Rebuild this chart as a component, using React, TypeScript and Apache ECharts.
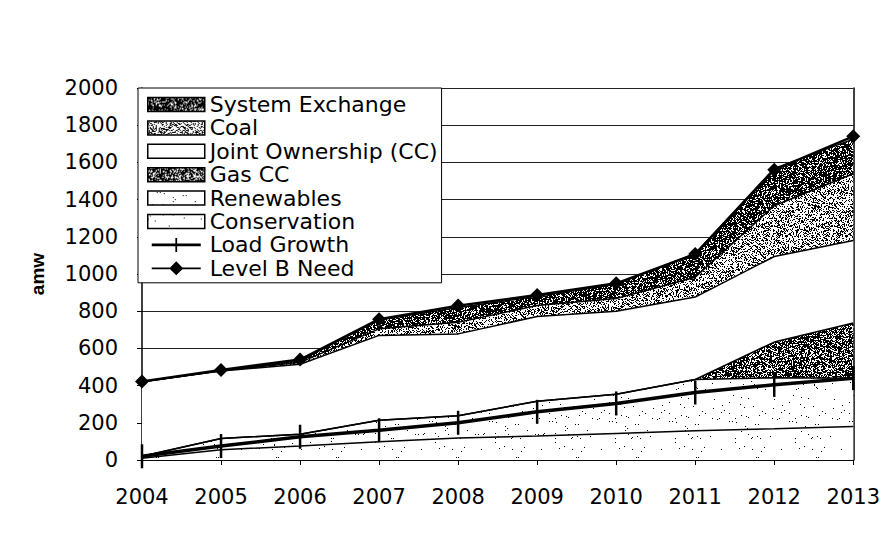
import React, { useEffect, useRef } from 'react';
import * as echarts from 'echarts';

const years = ['2004', '2005', '2006', '2007', '2008', '2009', '2010', '2011', '2012', '2013'];
// stacked from bottom to top
const conservation = [10, 55, 75, 98, 118, 129, 143, 157, 168, 180];
const renewables = [10, 61, 64, 116, 120, 187, 211, 276, 274, 260];
const gasCC = [0, 0, 0, 0, 0, 0, 0, 0, 192, 296];
const jointOwnership = [400, 362, 376, 456, 440, 456, 446, 443, 460, 444];
const coal = [0, 2, 10, 35, 62, 59, 68, 107, 273, 359];
const systemExchange = [0, 3, 10, 47, 80, 49, 77, 127, 201, 186];
const loadGrowth = [20, 75, 125, 160, 200, 259, 304, 363, 404, 440];
const levelBNeed = [422, 484, 540, 757, 830, 887, 950, 1107, 1560, 1740];

const yMin = 0;
const yMax = 2000;
const yStep = 200;

function makeTexture(bg: string, density: number, seed: number) {
  const size = 60;
  const c = document.createElement('canvas');
  c.width = size;
  c.height = size;
  const ctx = c.getContext('2d')!;
  ctx.fillStyle = bg;
  ctx.fillRect(0, 0, size, size);
  ctx.fillStyle = '#000';
  let s = seed;
  for (let y = 0; y < size; y++) {
    for (let x = 0; x < size; x++) {
      s = (s * 1103515245 + 12345) & 0x7fffffff;
      if (s / 0x7fffffff < density) ctx.fillRect(x, y, 1, 1);
    }
  }
  return { image: c, repeat: 'repeat' };
}

export default function App() {
  const ref = useRef<HTMLDivElement>(null);
  useEffect(() => {
    const chart = echarts.init(ref.current!, null, { renderer: 'svg' });
    const fills: Record<string, any> = {
      'System Exchange': makeTexture('#ffffff', 0.72, 7),
      'Coal': makeTexture('#ffffff', 0.36, 11),
      'Joint Ownership (CC)': '#ffffff',
      'Gas CC': makeTexture('#ffffff', 0.64, 19),
      'Renewables': makeTexture('#ffffff', 0.014, 23),
      'Conservation': makeTexture('#ffffff', 0.012, 31),
    };
    const font = 'DejaVu Sans';
    const area = (name: string, data: number[]) => ({
      name,
      type: 'line',
      stack: 'total',
      data,
      symbol: 'none',
      showSymbol: false,
      lineStyle: { color: '#000', width: 1.5 },
      itemStyle: { color: '#000' },
      areaStyle: { color: fills[name], opacity: 1 },
      emphasis: { disabled: true },
      z: 2,
    });
    const areaLegend = (name: string) => ({
      name,
      icon: 'rect',
      itemStyle: { color: fills[name], borderColor: '#000', borderWidth: 1.5 },
    });
    const option: any = {
      animation: false,
      backgroundColor: '#fff',
      grid: { left: 142, right: 23, top: 88, bottom: 80, containLabel: false },
      legend: {
        orient: 'vertical',
        left: 138,
        top: 88,
        padding: [5, 4, 3, 9],
        backgroundColor: '#fff',
        borderColor: '#000',
        borderWidth: 1,
        itemWidth: 57,
        itemHeight: 14,
        itemGap: 0.4,
        selectedMode: false,
        textStyle: { fontFamily: font, fontSize: 22, color: '#000', lineHeight: 23 },
        data: [
          areaLegend('System Exchange'),
          areaLegend('Coal'),
          areaLegend('Joint Ownership (CC)'),
          areaLegend('Gas CC'),
          areaLegend('Renewables'),
          areaLegend('Conservation'),
          {
            name: 'Load Growth',
            icon: 'path://M0,6.5H27V0H29V6.5H56V9.5H29V16H27V9.5H0Z',
            itemStyle: { color: '#000', borderWidth: 0 },
          },
          {
            name: 'Level B Need',
            icon: 'path://M0,7H21L28,0L35,7H56V9H35L28,16L21,9H0Z',
            itemStyle: { color: '#000', borderWidth: 0 },
          },
        ],
      },
      xAxis: {
        type: 'category',
        data: years,
        boundaryGap: false,
        axisLine: { show: true, lineStyle: { color: '#000', width: 1.5 } },
        axisTick: { show: true, length: 5, lineStyle: { color: '#000', width: 1 } },
        axisLabel: { fontFamily: font, fontSize: 21, color: '#000', margin: 26 },
        splitLine: { show: false },
      },
      yAxis: [
        {
          type: 'value',
          min: yMin,
          max: yMax,
          interval: yStep,
          name: 'amw',
          nameLocation: 'middle',
          nameRotate: 90,
          nameGap: 95,
          nameTextStyle: { fontFamily: 'Liberation Sans', fontWeight: 'bold', fontSize: 19, color: '#000' },
          axisLine: { show: true, lineStyle: { color: '#000', width: 1.5 } },
          axisTick: { show: true, length: 5, lineStyle: { color: '#000' } },
          axisLabel: {
            fontFamily: font,
            fontSize: 21,
            color: '#000',
            margin: 24,
            formatter: (v: number) => String(v),
          },
          splitLine: { show: true, lineStyle: { color: '#222', width: 1 } },
        },
        {
          type: 'value',
          min: yMin,
          max: yMax,
          interval: yStep,
          position: 'right',
          axisLine: { show: true, lineStyle: { color: '#000', width: 1.5 } },
          axisTick: { show: false },
          axisLabel: { show: false },
          splitLine: { show: false },
        },
      ],
      series: [
        area('Conservation', conservation),
        area('Renewables', renewables),
        area('Gas CC', gasCC),
        area('Joint Ownership (CC)', jointOwnership),
        area('Coal', coal),
        area('System Exchange', systemExchange),
        {
          name: 'Load Growth',
          type: 'line',
          data: loadGrowth,
          symbol: 'rect',
          symbolSize: [2.5, 24],
          showSymbol: true,
          lineStyle: { color: '#000', width: 3.5 },
          itemStyle: { color: '#000' },
          emphasis: { disabled: true },
          z: 5,
        },
        {
          name: 'Level B Need',
          type: 'line',
          data: levelBNeed,
          symbol: 'diamond',
          symbolSize: 14,
          showSymbol: true,
          lineStyle: { color: '#000', width: 2.5 },
          itemStyle: { color: '#000' },
          emphasis: { disabled: true },
          z: 6,
        },
      ],
    };
    chart.setOption(option);
    return () => chart.dispose();
  }, []);
  return <div ref={ref} style={{ position: 'absolute', left: 0, top: 0, width: 883, height: 540 }} />;
}
